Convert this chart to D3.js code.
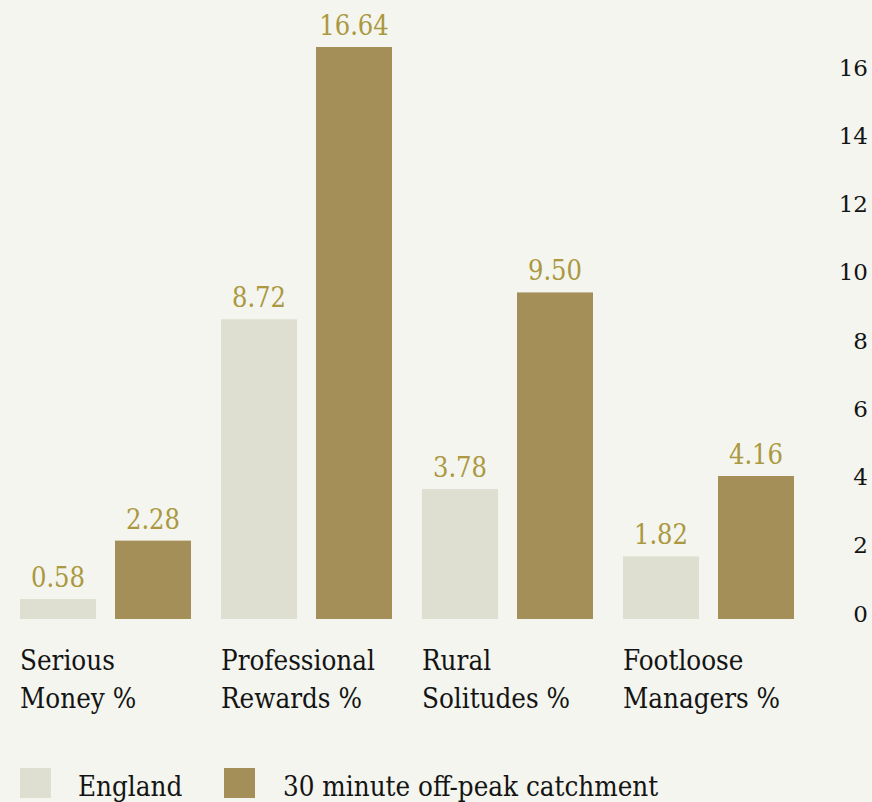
<!DOCTYPE html>
<html>
<head>
<meta charset="utf-8">
<script src="https://cdn.jsdelivr.net/npm/d3@7"></script>
<style>
  html, body { margin: 0; padding: 0; background: #f3f5ee; }
  svg { display: block; }
  text { font-family: "DejaVu Serif Condensed", "DejaVu Serif", serif; font-stretch: condensed; }
</style>
</head>
<body>
<svg id="chart" width="872" height="802"></svg>
<script>
const categories = ["Serious Money %", "Professional Rewards %", "Rural Solitudes %", "Footloose Managers %"];
const categoryLines = [["Serious", "Money %"], ["Professional", "Rewards %"], ["Rural", "Solitudes %"], ["Footloose", "Managers %"]];
const seriesNames = ["England", "30 minute off-peak catchment"];
const englandValues = [0.58, 8.72, 3.78, 1.82];
const catchmentValues = [2.28, 16.64, 9.50, 4.16];
const yTicks = [0, 2, 4, 6, 8, 10, 12, 14, 16];
const colors = ["#dedfd0", "#a38f57"];
const labelColor = "#ab9840";

const svg = d3.select("#chart");
svg.append("rect").attr("width", 872).attr("height", 802).attr("fill", "#f3f5ee");

const x0 = d3.scaleBand().domain(categories).range([20, 794]).paddingInner(30 / 201).paddingOuter(0);
const x1 = d3.scaleBand().domain(seriesNames).range([0, x0.bandwidth()]).paddingInner(0.2).paddingOuter(0);
const y = d3.scaleLinear().domain([0, 16.64]).range([619, 47]);

const data = categories.map((c, i) => ({ cat: c, values: [
  { s: seriesNames[0], v: englandValues[i], k: 0 },
  { s: seriesNames[1], v: catchmentValues[i], k: 1 }
]}));

const g = svg.append("g");
const groups = g.selectAll("g.grp").data(data).join("g")
  .attr("transform", d => `translate(${x0(d.cat)},0)`);

groups.selectAll("rect").data(d => d.values).join("rect")
  .attr("x", d => x1(d.s))
  .attr("width", x1.bandwidth())
  .attr("y", d => y(d.v))
  .attr("height", d => y(0) - y(d.v))
  .attr("fill", d => colors[d.k]);

groups.selectAll("text.val").data(d => d.values).join("text")
  .attr("class", "val")
  .attr("x", d => x1(d.s) + x1.bandwidth() / 2)
  .attr("y", d => y(d.v) - 12)
  .attr("text-anchor", "middle")
  .attr("font-size", 27)
  .attr("fill", labelColor)
  .text(d => d.v.toFixed(2));

// category labels
categories.forEach((c, i) => {
  const t = svg.append("text")
    .attr("x", x0(c))
    .attr("y", 670)
    .attr("font-size", 27.5)
    .attr("fill", "#141414");
  categoryLines[i].forEach((line, j) => {
    t.append("tspan").attr("x", x0(c)).attr("dy", j === 0 ? 0 : 38).text(line);
  });
});

// right axis
const axis = d3.axisRight(y).tickValues(yTicks).tickSize(0).tickFormat(d3.format("d"));
const ax = svg.append("g").attr("transform", "translate(868,0)").call(axis);
ax.select(".domain").remove();
ax.selectAll("text")
  .attr("x", 0)
  .attr("text-anchor", "end")
  .attr("dy", "0.35em")
  .attr("font-size", 23)
  .style("font-family", "\"DejaVu Serif\", serif")
  .style("font-stretch", "normal")
  .attr("fill", "#141414")
  .attr("transform", d => `translate(0,${-2 - (16 - d) / 16 * 4})`);

// legend
const legendX = [20, 224];
const legendTextX = [78, 283];
seriesNames.forEach((s, i) => {
  svg.append("rect").attr("x", legendX[i]).attr("y", 768).attr("width", 31).attr("height", 30).attr("fill", colors[i]);
  svg.append("text").attr("x", legendTextX[i]).attr("y", 796).attr("font-size", 27.5).attr("fill", "#141414").text(s);
});
</script>
</body>
</html>
